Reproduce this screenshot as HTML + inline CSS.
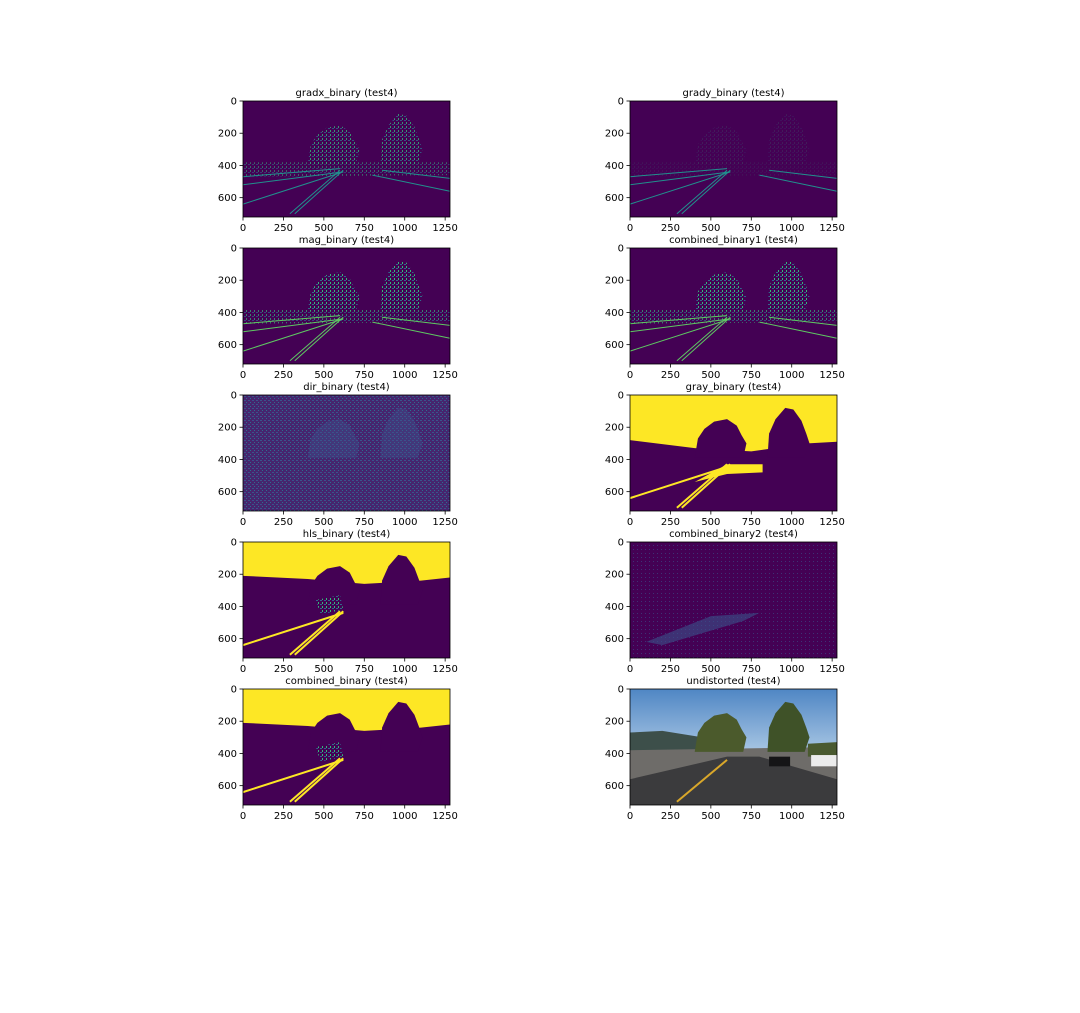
<!DOCTYPE html>
<html><head><meta charset="utf-8"><style>
body{margin:0;background:#fff;font-family:"Liberation Sans","DejaVu Sans",sans-serif}
svg text{font-family:"DejaVu Sans","Liberation Sans",sans-serif}
</style></head><body>
<svg id="fig" width="1080" height="1008" viewBox="0 0 1080 1008" xmlns="http://www.w3.org/2000/svg">
<defs>
<pattern id="edge" width="4" height="4" patternUnits="userSpaceOnUse"><rect width="4" height="4" fill="#440154"/><rect x="0" y="0" width="2" height="1" fill="#31688e"/><rect x="2" y="2" width="1" height="2" fill="#35b779"/></pattern>
<pattern id="noise" width="4" height="4" patternUnits="userSpaceOnUse"><rect width="4" height="4" fill="#46256e"/><rect x="0" y="0" width="2" height="1" fill="#3b528b"/><rect x="2" y="2" width="1" height="1" fill="#2c6f8e"/></pattern>
<pattern id="noise2" width="4" height="4" patternUnits="userSpaceOnUse"><rect width="4" height="4" fill="#440154"/><rect x="1" y="1" width="1" height="1" fill="#3b528b" opacity="0.6"/></pattern>
<linearGradient id="sky" x1="0" y1="0" x2="0" y2="1"><stop offset="0" stop-color="#4f86c4"/><stop offset="1" stop-color="#a9c7e4"/></linearGradient>
</defs>
</svg>
<script>
const xTicks=[0,250,500,750,1000,1250];
const yTicks=[0,200,400,600];
const titles=["gradx_binary (test4)","grady_binary (test4)","mag_binary (test4)","combined_binary1 (test4)","dir_binary (test4)","gray_binary (test4)","hls_binary (test4)","combined_binary2 (test4)","combined_binary (test4)","undistorted (test4)"];
const kinds=["edge","edgeLight","edgeStrong","edgeStrong","dir","gray","hls","comb2","hls","photo"];
const IMG_W=1280, IMG_H=720;
const colX=[243,630], rowY=[101,248,395,542,689], PW=207, PH=116;
const NS="http://www.w3.org/2000/svg";
const fig=document.getElementById('fig');
function el(tag,attrs,parent){const e=document.createElementNS(NS,tag);for(const k in attrs)e.setAttribute(k,attrs[k]);(parent||fig).appendChild(e);return e;}
const tree1=[[400,390],[420,270],[460,210],[520,165],[600,150],[660,190],[690,250],[720,300],[700,390]];
const tree2=[[850,390],[860,240],[900,150],[960,80],[1010,90],[1060,160],[1090,240],[1110,300],[1080,390]];
const skyPoly=[[0,0],[1280,0],[1280,290],[1100,300],[750,350],[400,330],[0,280]];
const hlsSky=[[0,0],[1280,0],[1280,220],[1100,240],[750,260],[400,230],[0,210]];
const lines=[[[290,700],[600,430]],[[320,700],[620,430]],[[0,640],[620,440]],[[0,470],[600,420]],[[0,520],[620,440]],[[800,460],[1280,560]],[[860,430],[1280,480]]];
panels();
function panels(){
 for(let i=0;i<10;i++){
  const c=i%2,r=Math.floor(i/2),X0=colX[c],Y0=rowY[r];
  const sx=v=>X0+v*PW/IMG_W, sy=v=>Y0+v*PH/IMG_H;
  const pts=p=>p.map(q=>sx(q[0])+','+sy(q[1])).join(' ');
  const g=el('g',{});
  
  
  const k=kinds[i];
  const bg=el('rect',{x:X0,y:Y0,width:PW,height:PH,fill:k==='dir'?'url(#noise)':(k==='comb2'?'url(#noise2)':'#440154')},g);
  
  
  if(k==='photo'){
   el('rect',{x:X0,y:Y0,width:PW,height:PH*0.55,fill:'url(#sky)'},g);
   el('polygon',{points:pts([[0,270],[200,260],[450,300],[450,400],[0,420]]),fill:'#3d4f4a'},g);
   el('polygon',{points:pts([[0,380],[1280,360],[1280,720],[0,720]]),fill:'#6e6c69'},g);
   el('polygon',{points:pts([[0,560],[600,420],[800,420],[1280,560],[1280,720],[0,720]]),fill:'#3b3b3d'},g);
   el('polygon',{points:pts(tree1),fill:'#4b5a2c'},g);
   el('polygon',{points:pts(tree2),fill:'#3f5228'},g);
   el('polygon',{points:pts([[1100,340],[1280,330],[1280,420],[1100,420]]),fill:'#4a5a30'},g);
   el('line',{x1:sx(290),y1:sy(700),x2:sx(600),y2:sy(440),stroke:'#d9a72a','stroke-width':2},g);
   el('rect',{x:sx(860),y:sy(420),width:PW*130/IMG_W,height:PH*60/IMG_H,fill:'#151517'},g);
   el('rect',{x:sx(1120),y:sy(410),width:PW*160/IMG_W,height:PH*70/IMG_H,fill:'#ececec'},g);
  } else if(k==='gray'||k==='hls'){
   el('polygon',{points:pts(k==='gray'?skyPoly:hlsSky),fill:'#fde725'},g);
   el('polygon',{points:pts(tree1),fill:'#440154'},g);
   el('polygon',{points:pts(tree2),fill:'#440154'},g);
   if(k==='gray'){el('polygon',{points:pts([[400,540],[600,430],[820,430],[820,480],[600,490]]),fill:'#fde725'},g);}
   else{el('polygon',{points:pts([[450,360],[600,330],[620,420],[480,450]]),fill:'url(#edge)'},g);}
   lines.slice(0,3).forEach(l=>el('line',{x1:sx(l[0][0]),y1:sy(l[0][1]),x2:sx(l[1][0]),y2:sy(l[1][1]),stroke:'#fde725','stroke-width':2},g));
  } else if(k!=='comb2'&&k!=='dir'){
   const op=k==='edgeLight'?0.15:(k==='edge'?0.8:1);
   el('polygon',{points:pts(tree1),fill:'url(#edge)',opacity:op},g);
   el('polygon',{points:pts(tree2),fill:'url(#edge)',opacity:op},g);
   el('polygon',{points:pts([[0,380],[1280,380],[1280,460],[0,470]]),fill:'url(#edge)',opacity:op*0.7},g);
   lines.forEach(l=>el('line',{x1:sx(l[0][0]),y1:sy(l[0][1]),x2:sx(l[1][0]),y2:sy(l[1][1]),stroke:k==='edgeStrong'?'#5ec962':'#21908d','stroke-width':1},g));
  } else if(k==='dir'){
   el('polygon',{points:pts(tree1),fill:'#3b528b',opacity:0.4},g);
   el('polygon',{points:pts(tree2),fill:'#3b528b',opacity:0.4},g);
  } else {
   el('polygon',{points:pts([[100,620],[500,460],[800,440],[700,490],[200,640]]),fill:'#3b528b',opacity:0.6},g);
  }
  const fr=el('rect',{x:X0,y:Y0,width:PW,height:PH,fill:'none',stroke:'#000','stroke-width':0.8},g);
  
  
  const t=el('text',{x:X0+PW/2,y:Y0-5,'text-anchor':'middle','font-size':10},g);
  t.textContent=titles[i];
  
  
  xTicks.forEach(v=>{
   el('line',{x1:sx(v),y1:Y0+PH,x2:sx(v),y2:Y0+PH+3.5,stroke:'#000','stroke-width':0.8},g);
   const tx=el('text',{x:sx(v),y:Y0+PH+14,'text-anchor':'middle','font-size':10},g);
   tx.textContent=v;
   
   
  });
  yTicks.forEach(v=>{
   el('line',{x1:X0-3.5,y1:sy(v),x2:X0,y2:sy(v),stroke:'#000','stroke-width':0.8},g);
   const ty=el('text',{x:X0-6,y:sy(v)+3.5,'text-anchor':'end','font-size':10},g);
   ty.textContent=v;
   
   
  });
 }
}
</script>
</body></html>
